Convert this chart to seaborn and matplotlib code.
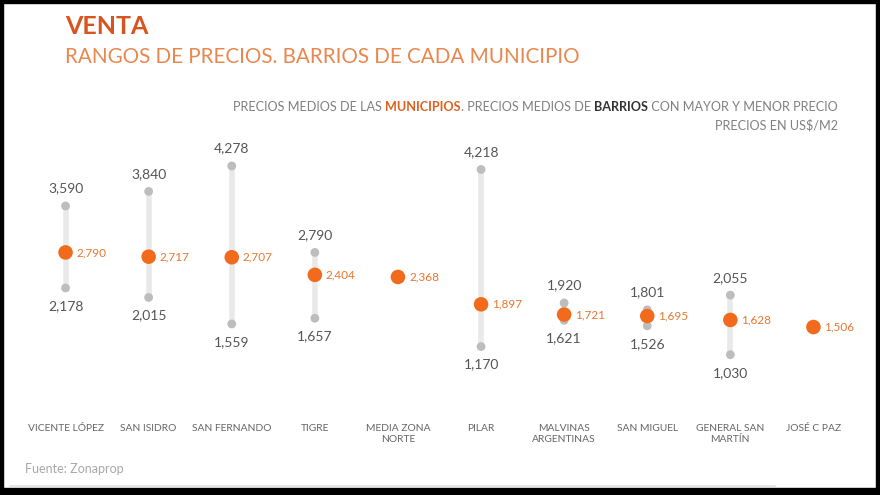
import numpy as np
import pandas as pd
import matplotlib.pyplot as plt
import seaborn as sns
from matplotlib.patches import Rectangle
from matplotlib.lines import Line2D

municipios = ["VICENTE LÓPEZ", "SAN ISIDRO", "SAN FERNANDO", "TIGRE", "MEDIA ZONA\nNORTE",
              "PILAR", "MALVINAS\nARGENTINAS", "SAN MIGUEL", "GENERAL SAN\nMARTÍN", "JOSÉ C PAZ"]
precio_medio = [2790, 2717, 2707, 2404, 2368, 1897, 1721, 1695, 1628, 1506]
precio_max = [3590, 3840, 4278, 2790, np.nan, 4218, 1920, 1801, 2055, np.nan]
precio_min = [2178, 2015, 1559, 1657, np.nan, 1170, 1621, 1526, 1030, np.nan]

df = pd.DataFrame({"mun": municipios, "medio": precio_medio,
                   "max": precio_max, "min": precio_min})
df["pos"] = np.arange(len(df))

sns.set_theme(style="white")
plt.rcParams["font.family"] = ["Lato", "DejaVu Sans"]

naranja = "#F26B1D"
naranja_txt = "#E8762E"
gris_oscuro = "#555555"

fig = plt.figure(figsize=(8.8, 4.95), dpi=100)
ax = fig.add_axes([24 / 880, 95 / 495, 831 / 880, 250 / 495])

rng = df.dropna()
ax.vlines(rng["pos"], rng["min"], rng["max"], color="#E9E9E9", lw=4, zorder=1)
sns.scatterplot(x=rng["pos"], y=rng["max"], color="#BDBDBD", s=40, edgecolor="none", ax=ax, zorder=2)
sns.scatterplot(x=rng["pos"], y=rng["min"], color="#BDBDBD", s=40, edgecolor="none", ax=ax, zorder=2)
sns.scatterplot(x=df["pos"], y=df["medio"], color=naranja, s=110, edgecolor="none", ax=ax, zorder=3)

for _, r in df.iterrows():
    ax.annotate(f"{r['medio']:,.0f}", (r["pos"], r["medio"]), xytext=(8, 0),
                textcoords="offset points", ha="left", va="center",
                color=naranja_txt, fontsize=8.5)
    if not np.isnan(r["max"]):
        ax.annotate(f"{r['max']:,.0f}", (r["pos"], r["max"]), xytext=(0, 12.5),
                    textcoords="offset points", ha="center", va="center",
                    color=gris_oscuro, fontsize=10)
        ax.annotate(f"{r['min']:,.0f}", (r["pos"], r["min"]), xytext=(0, -13),
                    textcoords="offset points", ha="center", va="center",
                    color=gris_oscuro, fontsize=10)

ax.set_xlim(-0.5, 9.5)
ax.set_ylim(250, 4553)
ax.set_xticks(df["pos"])
ax.set_xticklabels(df["mun"], fontsize=7.4, color="#666666", linespacing=1.4)
ax.tick_params(axis="x", length=0, pad=17)
ax.set_yticks([])
ax.set_xlabel("")
ax.set_ylabel("")
sns.despine(ax=ax, left=True, bottom=True)

fig.text(65 / 880, 1 - 27 / 495, "VENTA", color="#D9531E", fontsize=18,
         fontweight="bold", va="center")
fig.text(65 / 880, 1 - 57 / 495, "RANGOS DE PRECIOS. BARRIOS DE CADA MUNICIPIO",
         color="#E8874E", fontsize=14.9, va="center")

# encabezado multicolor
fig.canvas.draw()
renderer = fig.canvas.get_renderer()
partes = [("PRECIOS MEDIOS DE LAS ", "#808080", "normal"),
          ("MUNICIPIOS", "#E0601F", "bold"),
          (". PRECIOS MEDIOS DE ", "#808080", "normal"),
          ("BARRIOS", "#333333", "bold"),
          (" CON MAYOR Y MENOR PRECIO", "#808080", "normal")]
x = 233
for txt, col, w in partes:
    t = fig.text(x / 880, 1 - 107 / 495, txt, color=col, fontsize=9.1, fontweight=w, va="center")
    x = t.get_window_extent(renderer).x1
fig.text(838 / 880, 1 - 125 / 495, "PRECIOS EN US$/M2", color="#808080", fontsize=9.1,
         ha="right", va="center")

fig.text(25 / 880, 1 - 469 / 495, "Fuente: Zonaprop", color="#A8A8A8", fontsize=9, va="center")
fig.add_artist(Line2D([10 / 880, 775 / 880], [1 - 486 / 495] * 2, color="#E6E6E6", lw=1.5))

fig.add_artist(Rectangle((0, 0), 1, 7 / 495, transform=fig.transFigure, color="black"))
fig.add_artist(Rectangle((0, 0), 3 / 880, 1, transform=fig.transFigure, color="black"))
fig.add_artist(Rectangle((876 / 880, 0), 4 / 880, 1, transform=fig.transFigure, color="black"))
fig.add_artist(Rectangle((0, 1 - 3 / 495), 1, 3 / 495, transform=fig.transFigure, color="black"))

fig.savefig("out.png", dpi=100)
